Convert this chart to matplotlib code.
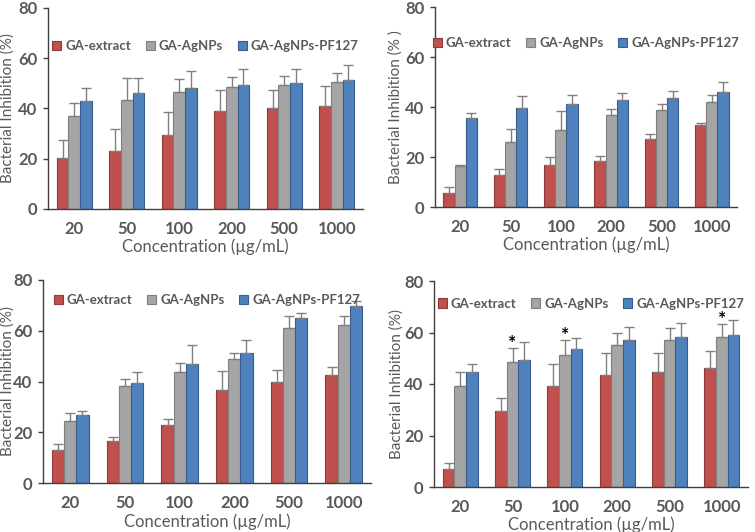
import numpy as np
import matplotlib
matplotlib.use("Agg")
import matplotlib.pyplot as plt

plt.rcParams['font.family'] = ['Lato', 'DejaVu Sans']

categories = ["20", "50", "100", "200", "500", "1000"]
series_names = ["GA-extract", "GA-AgNPs", "GA-AgNPs-PF127"]

# Panel A (top-left)
a_extract = [20.2, 23.2, 29.6, 39.1, 40.1, 41.0]
a_extract_sd = [7.4, 8.6, 9.0, 8.4, 7.1, 7.8]
a_agnps = [37.0, 43.2, 46.4, 48.4, 49.3, 50.5]
a_agnps_sd = [5.2, 8.8, 5.2, 4.1, 3.7, 3.6]
a_pf127 = [43.0, 46.1, 48.0, 49.3, 50.0, 51.3]
a_pf127_sd = [5.0, 5.9, 6.9, 6.3, 5.8, 5.9]

# Panel B (top-right)
b_extract = [5.8, 13.0, 16.7, 18.5, 27.4, 33.0]
b_extract_sd = [2.2, 2.1, 3.5, 2.0, 1.8, 0.8]
b_agnps = [16.5, 25.9, 30.8, 36.9, 38.9, 42.0]
b_agnps_sd = [0.2, 5.2, 7.5, 2.2, 2.3, 3.0]
b_pf127 = [35.5, 39.7, 41.3, 42.9, 43.6, 46.1]
b_pf127_sd = [2.1, 4.6, 3.5, 2.9, 2.9, 4.0]

# Panel C (bottom-left)
c_extract = [12.9, 16.4, 22.9, 36.8, 40.0, 42.6]
c_extract_sd = [2.6, 1.8, 2.4, 7.4, 4.7, 3.3]
c_agnps = [24.6, 38.4, 43.6, 48.7, 60.9, 62.1]
c_agnps_sd = [2.8, 2.5, 3.8, 2.5, 4.8, 3.6]
c_pf127 = [26.8, 39.3, 46.7, 51.4, 64.9, 69.9]
c_pf127_sd = [1.6, 4.5, 7.5, 5.0, 2.1, 1.7]

# Panel D (bottom-right)
d_extract = [7.0, 29.6, 39.2, 43.6, 44.6, 46.2]
d_extract_sd = [2.2, 4.8, 8.4, 8.3, 7.3, 6.6]
d_agnps = [39.4, 48.6, 51.1, 55.0, 56.9, 58.1]
d_agnps_sd = [5.3, 5.4, 5.8, 4.9, 5.0, 5.1]
d_pf127 = [44.5, 49.3, 53.6, 57.1, 58.1, 59.0]
d_pf127_sd = [3.4, 7.2, 4.4, 5.2, 5.7, 5.9]
d_star = [False, True, True, False, False, True]

ylabels = ["Bacterial Inhibition (%)", "Bacterial Inhibition (% )",
           "Bacterial Inhibition (%)", "Bacterial Inhibition (%)"]
xlabel = "Concentration (\u00b5g/mL)"

face_colors = ["#C0504D", "#A5A5A5", "#4F81BD"]
edge_colors = ["#8C3B39", "#7F7F7F", "#385D8A"]
txt = "#595959"

# rect, legend y (axes frac), ylabel x (axes frac), xlabel y (axes frac)
panels = [
    ((a_extract, a_agnps, a_pf127), (a_extract_sd, a_agnps_sd, a_pf127_sd), None,
     [48/755, 1-209/532, 315/755, 201/532], 0.81, -0.127, -0.19),
    ((b_extract, b_agnps, b_pf127), (b_extract_sd, b_agnps_sd, b_pf127_sd), None,
     [435/755, 1-207/532, 302/755, 200/532], 0.82, -0.132, -0.19),
    ((c_extract, c_agnps, c_pf127), (c_extract_sd, c_agnps_sd, c_pf127_sd), None,
     [43/755, 1-483/532, 328/755, 203/532], 0.90, -0.107, -0.19),
    ((d_extract, d_agnps, d_pf127), (d_extract_sd, d_agnps_sd, d_pf127_sd), d_star,
     [434/755, 1-487/532, 314/755, 206/532], 0.89, -0.118, -0.183),
]

fig = plt.figure(figsize=(7.55, 5.32), dpi=100)
x = np.arange(len(categories))
w = 0.222

for pi, (vals, sds, stars, rect, legy, ylx, xly) in enumerate(panels):
    ax = fig.add_axes(rect)
    handles = []
    for si in range(3):
        pos = x + (si - 1) * w
        v = np.array(vals[si])
        s = np.array(sds[si])
        b = ax.bar(pos, v, width=w, color=face_colors[si], edgecolor=edge_colors[si],
                   linewidth=0.8, label=series_names[si], zorder=2)
        handles.append(b)
        ax.errorbar(pos, v, yerr=[np.zeros_like(s), s], fmt='none', ecolor='#808080',
                    elinewidth=1.0, capsize=3.5, capthick=1.0, zorder=3)
        if stars is not None and si == 1:
            for xi, flag in enumerate(stars):
                if flag:
                    ax.text(pos[xi], v[xi] + s[xi] - 0.3, "*", ha='center', va='baseline',
                            fontsize=14, fontweight='bold', color='black')
    ax.set_xlim(-0.5, len(categories) - 0.5)
    ax.set_ylim(0, 80)
    ax.set_yticks([0, 20, 40, 60, 80])
    ax.set_xticks(x)
    ax.set_xticklabels(categories)
    for sp in ['top', 'right']:
        ax.spines[sp].set_visible(False)
    for sp in ['left', 'bottom']:
        ax.spines[sp].set_color('#404040')
        ax.spines[sp].set_linewidth(1.0)
    ax.tick_params(axis='x', length=0, pad=9, labelsize=12, colors=txt)
    ax.tick_params(axis='y', length=3.5, width=1, direction='out', pad=4, labelsize=12,
                   colors='#404040', labelcolor=txt)
    for lbl in ax.get_xticklabels() + ax.get_yticklabels():
        lbl.set_fontweight('bold')
    ax.set_xlabel(xlabel, fontsize=12, color=txt)
    ax.set_ylabel(ylabels[pi], fontsize=11, color=txt)
    ax.yaxis.set_label_coords(ylx, 0.5)
    ax.xaxis.set_label_coords(0.5, xly)
    ax.xaxis.label.set_va('center')
    ax.yaxis.label.set_va('center')
    leg = ax.legend(handles=handles, loc='center', bbox_to_anchor=(0.5, legy), ncol=3,
                    frameon=False, handlelength=0.7, handleheight=0.7, handletextpad=0.3,
                    columnspacing=1.1, prop={'weight': 'bold', 'size': 9.5})
    for t in leg.get_texts():
        t.set_color(txt)

fig.savefig("out.png", dpi=100)
